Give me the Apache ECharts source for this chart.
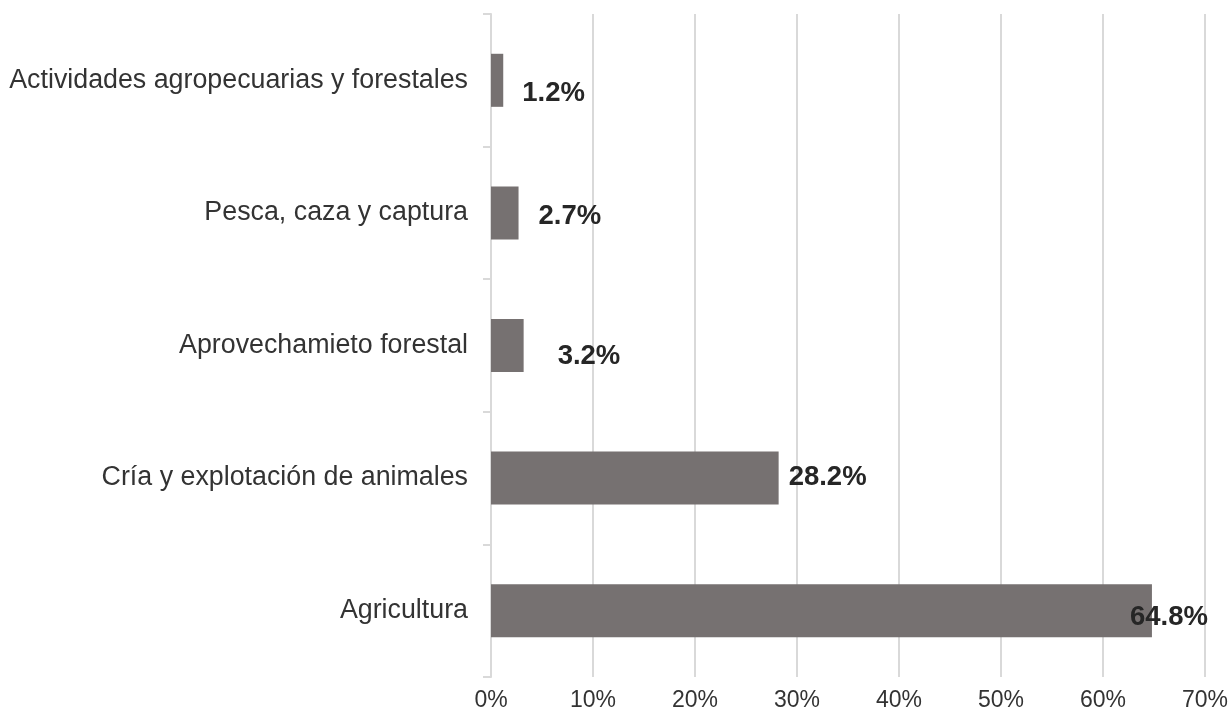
<!DOCTYPE html>
<html>
<head>
<meta charset="utf-8">
<script src="https://cdn.jsdelivr.net/npm/echarts@6/dist/echarts.min.js"></script>
<style>
  html, body { margin: 0; padding: 0; background: #fff; }
  #chart { width: 1231px; height: 715px; }
</style>
</head>
<body>
<div id="chart"></div>
<script>
// Sectors, listed from the bottom bar to the top bar
const categories = [
  'Agricultura',
  'Cría y explotación de animales',
  'Aprovechamieto forestal',
  'Pesca, caza y captura',
  'Actividades agropecuarias y forestales'
];
// Share of each sector, percent
const shares = [64.8, 28.2, 3.2, 2.7, 1.2];
// X axis ticks, percent
const xTicks = [0, 10, 20, 30, 40, 50, 60, 70];

// Where each value label sits relative to the end of its bar [dx, dy]
const labelShift = [[-22, 7], [10, -1], [34, 11], [20, 4], [19, 13]];

const chart = echarts.init(document.getElementById('chart'));
chart.setOption({
  animation: false,
  grid: { left: 491, right: 26, top: 14, bottom: 38, containLabel: false },
  xAxis: {
    type: 'value',
    min: xTicks[0],
    max: xTicks[xTicks.length - 1],
    interval: xTicks[1] - xTicks[0],
    axisLine: { show: false },
    axisTick: { show: false },
    splitLine: { show: true, lineStyle: { color: '#d9d9d9', width: 2 } },
    axisLabel: {
      formatter: v => v + '%',
      color: '#333333',
      fontFamily: 'Liberation Sans, Arial, sans-serif',
      fontSize: 23,
      margin: 12
    }
  },
  yAxis: {
    type: 'category',
    data: categories,
    axisLine: { show: true, lineStyle: { color: '#d9d9d9', width: 2 } },
    axisTick: { show: true, length: 8, lineStyle: { color: '#d9d9d9', width: 2 } },
    axisLabel: {
      color: '#333333',
      fontFamily: 'Liberation Sans, Arial, sans-serif',
      fontSize: 26.8,
      margin: 23,
      padding: [8, 0, 0, 0]
    }
  },
  series: [{
    type: 'bar',
    barCategoryGap: '60%',
    itemStyle: { color: '#767171' },
    data: shares.map((v, i) => ({
      value: v,
      label: { offset: labelShift[i] }
    })),
    label: {
      show: true,
      position: 'right',
      distance: 0,
      formatter: p => p.value.toFixed(1) + '%',
      color: '#262626',
      fontWeight: 'bold',
      fontFamily: 'Liberation Sans, Arial, sans-serif',
      fontSize: 27.5
    }
  }]
});
</script>
</body>
</html>
